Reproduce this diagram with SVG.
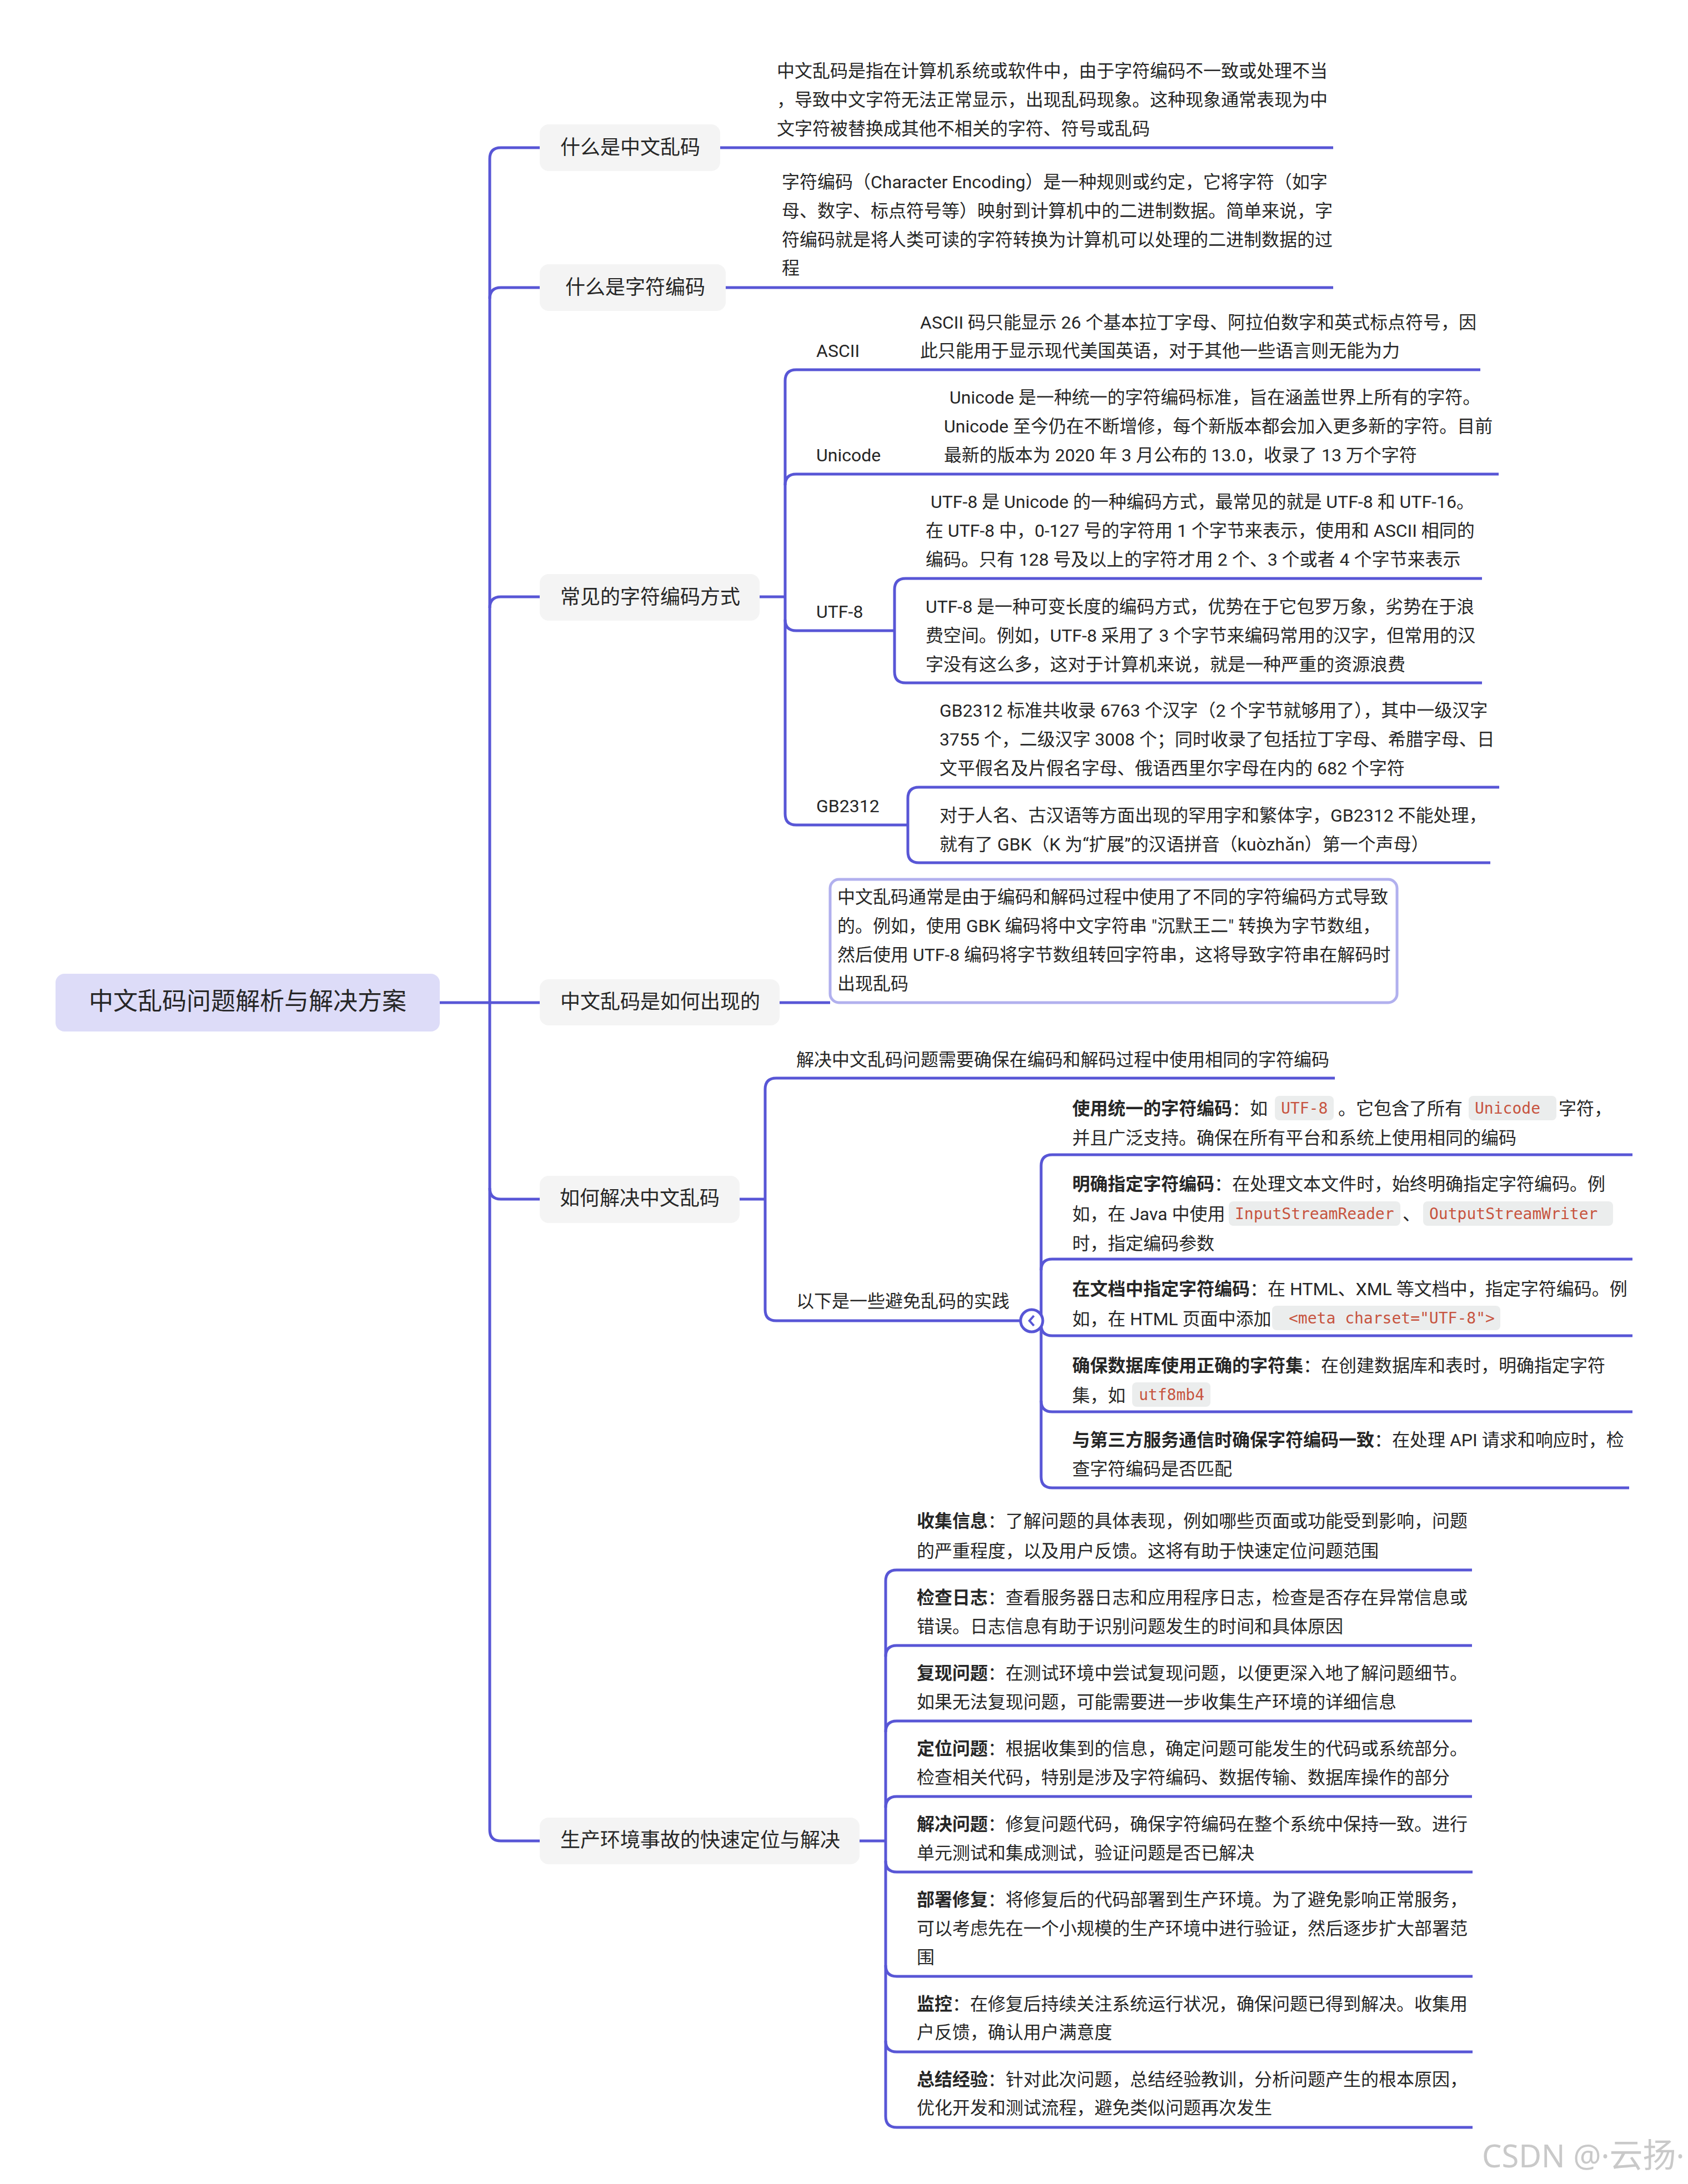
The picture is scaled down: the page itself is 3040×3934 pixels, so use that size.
<svg xmlns="http://www.w3.org/2000/svg" width="3040" height="3934" viewBox="0 0 3040 3934">
<style>
text{font-family:Roboto,"Noto Sans CJK SC",sans-serif;fill:#262626;white-space:pre}
.t{font-size:32px}
.n{font-size:36px}
.r{font-size:44px}
.b{font-weight:700}
.c{font-family:"DejaVu Sans Mono","Liberation Mono",monospace;font-size:28px;fill:#c7543f}
.chip{fill:#ebeded}
.node{fill:#f4f4f4}
.wire{fill:none;stroke:#5856d6;stroke-width:5}
.wm{font-family:"Noto Sans","Noto Sans CJK SC",sans-serif;font-size:56px;fill:#c9c9c9}
.wm2{font-size:60px}
</style>
<rect width="3040" height="3934" fill="#ffffff"/>
<g id="connectors">
<path class="wire" d="M972,266H902Q882,266 882,286V3296Q882,3316 902,3316H972"/>
<path class="wire" d="M882,538Q882,518 902,518H972"/>
<path class="wire" d="M882,1095Q882,1075 902,1075H972"/>
<path class="wire" d="M792,1806H972"/>
<path class="wire" d="M882,2140Q882,2160 902,2160H972"/>
<path class="wire" d="M1297,266H2401"/>
<path class="wire" d="M1307,518H2401"/>
<path class="wire" d="M1368,1075H1414"/>
<path class="wire" d="M2666,666H1434Q1414,666 1414,686V1466Q1414,1486 1434,1486H1635"/>
<path class="wire" d="M1414,874Q1414,854 1434,854H2699"/>
<path class="wire" d="M1414,1116Q1414,1136 1434,1136H1611"/>
<path class="wire" d="M2669,1042H1631Q1611,1042 1611,1062V1210Q1611,1230 1631,1230H2669"/>
<path class="wire" d="M2700,1418H1655Q1635,1418 1635,1438V1534Q1635,1554 1655,1554H2684"/>
<path class="wire" d="M1404,1806H1495"/>
<path class="wire" d="M1332,2160H1378"/>
<path class="wire" d="M2404,1942H1398Q1378,1942 1378,1962V2359Q1378,2379 1398,2379H1838"/>
<path class="wire" d="M2940,2080H1895Q1875,2080 1875,2100V2660Q1875,2680 1895,2680H2934"/>
<path class="wire" d="M1875,2288Q1875,2268 1895,2268H2940"/>
<path class="wire" d="M1875,2386Q1875,2406 1895,2406H2940"/>
<path class="wire" d="M1875,2523Q1875,2543 1895,2543H2940"/>
<path class="wire" d="M1548,3316H1595"/>
<path class="wire" d="M2651,2828H1615Q1595,2828 1595,2848V3812Q1595,3832 1615,3832H2652"/>
<path class="wire" d="M1595,2984Q1595,2964 1615,2964H2651"/>
<path class="wire" d="M1595,3120Q1595,3100 1615,3100H2651"/>
<path class="wire" d="M1595,3256Q1595,3236 1615,3236H2651"/>
<path class="wire" d="M1595,3352Q1595,3372 1615,3372H2652"/>
<path class="wire" d="M1595,3540Q1595,3560 1615,3560H2652"/>
<path class="wire" d="M1595,3676Q1595,3696 1615,3696H2652"/>
</g>
<g id="root"><rect x="100" y="1754" width="692" height="104" rx="16" fill="#dddcf8"/><text class="r" x="160" y="1819">中文乱码问题解析与解决方案</text></g>
<g id="node-what-garbled"><rect class="node" x="972" y="224" width="325" height="84" rx="16"/><text class="n" x="1009" y="278">什么是中文乱码</text></g>
<g id="text-what-garbled">
<text class="t" x="1399" y="139">中文乱码是指在计算机系统或软件中，由于字符编码不一致或处理不当</text>
<text class="t" x="1399" y="191">，导致中文字符无法正常显示，出现乱码现象。这种现象通常表现为中</text>
<text class="t" x="1399" y="243">文字符被替换成其他不相关的字符、符号或乱码</text>
</g>
<g id="node-what-encoding"><rect class="node" x="972" y="476" width="335" height="84" rx="16"/><text class="n" x="1018" y="530">什么是字符编码</text></g>
<g id="text-what-encoding">
<text class="t" x="1408" y="339">字符编码（Character Encoding）是一种规则或约定，它将字符（如字</text>
<text class="t" x="1408" y="391">母、数字、标点符号等）映射到计算机中的二进制数据。简单来说，字</text>
<text class="t" x="1408" y="443">符编码就是将人类可读的字符转换为计算机可以处理的二进制数据的过</text>
<text class="t" x="1408" y="494">程</text>
</g>
<g id="node-common-encodings"><rect class="node" x="972" y="1034" width="396" height="84" rx="16"/><text class="n" x="1009" y="1088">常见的字符编码方式</text></g>
<g id="enc-ascii">
<text class="t" x="1470" y="643">ASCII</text>
<text class="t" x="1657" y="592">ASCII 码只能显示 26 个基本拉丁字母、阿拉伯数字和英式标点符号，因</text>
<text class="t" x="1657" y="643">此只能用于显示现代美国英语，对于其他一些语言则无能为力</text>
</g>
<g id="enc-unicode">
<text class="t" x="1470" y="831">Unicode</text>
<text class="t" x="1710" y="727">Unicode 是一种统一的字符编码标准，旨在涵盖世界上所有的字符。</text>
<text class="t" x="1700" y="779">Unicode 至今仍在不断增修，每个新版本都会加入更多新的字符。目前</text>
<text class="t" x="1700" y="831">最新的版本为 2020 年 3 月公布的 13.0，收录了 13 万个字符</text>
</g>
<g id="enc-utf8">
<text class="t" x="1470" y="1113">UTF-8</text>
<text class="t" x="1676" y="915">UTF-8 是 Unicode 的一种编码方式，最常见的就是 UTF-8 和 UTF-16。</text>
<text class="t" x="1667" y="967">在 UTF-8 中，0-127 号的字符用 1 个字节来表示，使用和 ASCII 相同的</text>
<text class="t" x="1667" y="1019">编码。只有 128 号及以上的字符才用 2 个、3 个或者 4 个字节来表示</text>
<text class="t" x="1667" y="1104">UTF-8 是一种可变长度的编码方式，优势在于它包罗万象，劣势在于浪</text>
<text class="t" x="1667" y="1156">费空间。例如，UTF-8 采用了 3 个字节来编码常用的汉字，但常用的汉</text>
<text class="t" x="1667" y="1208">字没有这么多，这对于计算机来说，就是一种严重的资源浪费</text>
</g>
<g id="enc-gb2312">
<text class="t" x="1470" y="1463">GB2312</text>
<text class="t" x="1692" y="1291">GB2312 标准共收录 6763 个汉字（2 个字节就够用了），其中一级汉字</text>
<text class="t" x="1692" y="1343">3755 个，二级汉字 3008 个；同时收录了包括拉丁字母、希腊字母、日</text>
<text class="t" x="1692" y="1395">文平假名及片假名字母、俄语西里尔字母在内的 682 个字符</text>
<text class="t" x="1692" y="1480">对于人名、古汉语等方面出现的罕用字和繁体字，GB2312 不能处理，</text>
<text class="t" x="1692" y="1532">就有了 GBK（K 为“扩展”的汉语拼音（kuòzhǎn）第一个声母）</text>
</g>
<g id="node-how-appears"><rect class="node" x="972" y="1764" width="432" height="83" rx="16"/><text class="n" x="1009" y="1817">中文乱码是如何出现的</text></g>
<g id="box-how-appears">
<rect x="1495" y="1584" width="1021" height="222" rx="16" fill="#ffffff" stroke="#b1b0ee" stroke-width="5"/>
<text class="t" x="1508" y="1627">中文乱码通常是由于编码和解码过程中使用了不同的字符编码方式导致</text>
<text class="t" x="1508" y="1679">的。例如，使用 GBK 编码将中文字符串 "沉默王二" 转换为字节数组，</text>
<text class="t" x="1508" y="1731">然后使用 UTF-8 编码将字节数组转回字符串，这将导致字符串在解码时</text>
<text class="t" x="1508" y="1783">出现乱码</text>
</g>
<g id="node-how-solve"><rect class="node" x="972" y="2118" width="360" height="85" rx="16"/><text class="n" x="1008" y="2171">如何解决中文乱码</text></g>
<g id="solve-summary">
<text class="t" x="1434" y="1920">解决中文乱码问题需要确保在编码和解码过程中使用相同的字符编码</text>
<text class="t" x="1434" y="2355">以下是一些避免乱码的实践</text>
</g>
<g id="collapse-toggle"><circle cx="1858" cy="2379" r="20" fill="#ffffff" stroke="#5856d6" stroke-width="5"/><path d="M1862,2370L1854,2379L1862,2388" fill="none" stroke="#5856d6" stroke-width="4"/></g>
<g id="practice-1">
<rect class="chip" x="2296" y="1974" width="106" height="44" rx="8"/><rect class="chip" x="2645" y="1974" width="158" height="44" rx="8"/>
<text class="t" x="1931" y="2008"><tspan class="b">使用统一的字符编码</tspan>：如</text>
<text class="c" x="2307" y="2006">UTF-8</text><text class="t" x="2410" y="2008">。它包含了所有</text><text class="c" x="2656" y="2006">Unicode</text><text class="t" x="2807" y="2008">字符，</text>
<text class="t" x="1931" y="2061">并且广泛支持。确保在所有平台和系统上使用相同的编码</text>
</g>
<g id="practice-2">
<rect class="chip" x="2213" y="2164" width="309" height="44" rx="8"/><rect class="chip" x="2563" y="2164" width="342" height="44" rx="8"/>
<text class="t" x="1931" y="2144"><tspan class="b">明确指定字符编码</tspan>：在处理文本文件时，始终明确指定字符编码。例</text>
<text class="t" x="1931" y="2198">如，在 Java 中使用</text><text class="c" x="2224" y="2196">InputStreamReader</text><text class="t" x="2526" y="2198">、</text><text class="c" x="2574" y="2196">OutputStreamWriter</text>
<text class="t" x="1931" y="2251">时，指定编码参数</text>
</g>
<g id="practice-3">
<rect class="chip" x="2291" y="2352" width="411" height="44" rx="8"/>
<text class="t" x="1931" y="2333"><tspan class="b">在文档中指定字符编码</tspan>：在 HTML、XML 等文档中，指定字符编码。例</text>
<text class="t" x="1931" y="2387">如，在 HTML 页面中添加</text><text class="c" x="2321" y="2384">&lt;meta charset="UTF-8"&gt;</text>
</g>
<g id="practice-4">
<rect class="chip" x="2039" y="2490" width="141" height="44" rx="8"/>
<text class="t" x="1931" y="2471"><tspan class="b">确保数据库使用正确的字符集</tspan>：在创建数据库和表时，明确指定字符</text>
<text class="t" x="1931" y="2525">集，如</text><text class="c" x="2051" y="2522">utf8mb4</text>
</g>
<g id="practice-5">
<text class="t" x="1931" y="2605"><tspan class="b">与第三方服务通信时确保字符编码一致</tspan>：在处理 API 请求和响应时，检</text>
<text class="t" x="1931" y="2657">查字符编码是否匹配</text>
</g>
<g id="node-production"><rect class="node" x="972" y="3274" width="576" height="84" rx="16"/><text class="n" x="1009" y="3327">生产环境事故的快速定位与解决</text></g>
<g id="step-1">
<text class="t" x="1651" y="2751"><tspan class="b">收集信息</tspan>：了解问题的具体表现，例如哪些页面或功能受到影响，问题</text>
<text class="t" x="1651" y="2805">的严重程度，以及用户反馈。这将有助于快速定位问题范围</text>
</g>
<g id="step-2">
<text class="t" x="1651" y="2889"><tspan class="b">检查日志</tspan>：查看服务器日志和应用程序日志，检查是否存在异常信息或</text>
<text class="t" x="1651" y="2941">错误。日志信息有助于识别问题发生的时间和具体原因</text>
</g>
<g id="step-3">
<text class="t" x="1651" y="3025"><tspan class="b">复现问题</tspan>：在测试环境中尝试复现问题，以便更深入地了解问题细节。</text>
<text class="t" x="1651" y="3077">如果无法复现问题，可能需要进一步收集生产环境的详细信息</text>
</g>
<g id="step-4">
<text class="t" x="1651" y="3161"><tspan class="b">定位问题</tspan>：根据收集到的信息，确定问题可能发生的代码或系统部分。</text>
<text class="t" x="1651" y="3213">检查相关代码，特别是涉及字符编码、数据传输、数据库操作的部分</text>
</g>
<g id="step-5">
<text class="t" x="1651" y="3297"><tspan class="b">解决问题</tspan>：修复问题代码，确保字符编码在整个系统中保持一致。进行</text>
<text class="t" x="1651" y="3349">单元测试和集成测试，验证问题是否已解决</text>
</g>
<g id="step-6">
<text class="t" x="1651" y="3433"><tspan class="b">部署修复</tspan>：将修复后的代码部署到生产环境。为了避免影响正常服务，</text>
<text class="t" x="1651" y="3485">可以考虑先在一个小规模的生产环境中进行验证，然后逐步扩大部署范</text>
<text class="t" x="1651" y="3537">围</text>
</g>
<g id="step-7">
<text class="t" x="1651" y="3621"><tspan class="b">监控</tspan>：在修复后持续关注系统运行状况，确保问题已得到解决。收集用</text>
<text class="t" x="1651" y="3672">户反馈，确认用户满意度</text>
</g>
<g id="step-8">
<text class="t" x="1651" y="3757"><tspan class="b">总结经验</tspan>：针对此次问题，总结经验教训，分析问题产生的根本原因，</text>
<text class="t" x="1651" y="3808">优化开发和测试流程，避免类似问题再次发生</text>
</g>
<g id="watermark"><text class="wm" x="2669" y="3904">CSDN @·<tspan class="wm2">云扬</tspan>·</text></g>
</svg>
